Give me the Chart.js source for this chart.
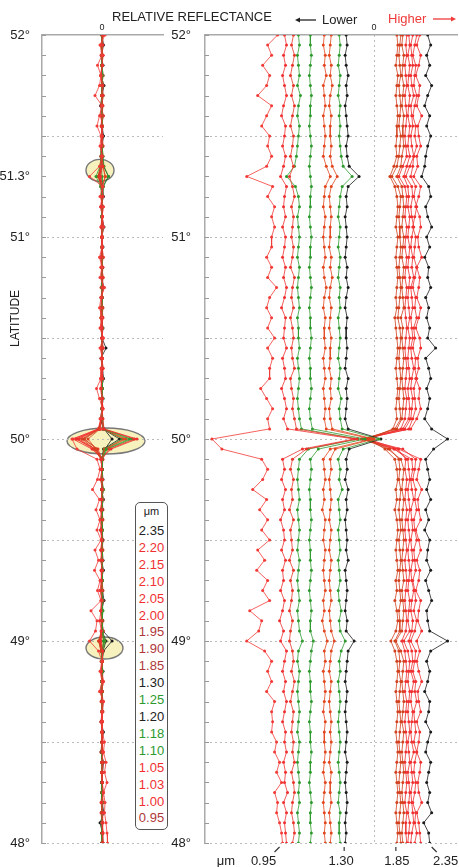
<!DOCTYPE html>
<html>
<head>
<meta charset="utf-8">
<script src="https://cdn.jsdelivr.net/npm/chart.js@4.4.1/dist/chart.umd.min.js"></script>
<style>
  body { margin: 0; background: #fff; width: 459px; height: 867px; overflow: hidden; position: relative;
         font-family: "Liberation Sans", Arial, sans-serif; color: #222; }
  canvas { position: absolute; top: 0; }
  .txt { position: absolute; white-space: nowrap; font-size: 13px; line-height: 16px; }
  #legend { position: absolute; left: 135px; top: 502px; width: 31px; border: 1.5px solid #555;
            border-radius: 5px; background: #fff; text-align: center; padding-bottom: 2px; }
  #legend div { font-size: 13px; line-height: 16.9px; }
  #legend .hd { font-size: 11px; line-height: 17px; margin-bottom: 3px; }
</style>
</head>
<body>
<canvas id="left" width="172" height="867" style="left:0"></canvas>
<canvas id="right" width="309" height="867" style="left:150px"></canvas>

<div class="txt" style="left:112px;top:9px">RELATIVE REFLECTANCE</div>
<div class="txt" style="left:322px;top:12px">Lower</div>
<div class="txt" style="left:388px;top:11px;color:#f03a3a">Higher</div>
<svg width="459" height="40" style="position:absolute;left:0;top:0">
  <line x1="297" y1="20" x2="316" y2="20" stroke="#222" stroke-width="1.3"/>
  <path d="M295 20 l5 -2.5 v5 z" fill="#222"/>
  <line x1="433" y1="19" x2="453" y2="19" stroke="#f03a3a" stroke-width="1.3"/>
  <path d="M456 19 l-5 -2.5 v5 z" fill="#f03a3a"/>
</svg>
<div class="txt" style="left:-12px;top:312px;font-size:12px;transform:rotate(-90deg);transform-origin:27px 8px">LATITUDE</div>
<div id="legend"></div>

<script>
// --- DATOS ---
const LAT = [52, 51.95, 51.9, 51.85, 51.8, 51.75, 51.7, 51.65, 51.6, 51.55,
    51.5, 51.45, 51.4, 51.35, 51.3, 51.25, 51.2, 51.15, 51.1, 51.05,
    51, 50.95, 50.9, 50.85, 50.8, 50.75, 50.7, 50.65, 50.6, 50.55,
    50.5, 50.45, 50.4, 50.35, 50.3, 50.25, 50.2, 50.15, 50.1, 50.05,
    50, 49.95, 49.9, 49.85, 49.8, 49.75, 49.7, 49.65, 49.6, 49.55,
    49.5, 49.45, 49.4, 49.35, 49.3, 49.25, 49.2, 49.15, 49.1, 49.05,
    49, 48.95, 48.9, 48.85, 48.8, 48.75, 48.7, 48.65, 48.6, 48.55,
    48.5, 48.45, 48.4, 48.35, 48.3, 48.25, 48.2, 48.15, 48.1, 48.05, 48];

// series in plot order (left to right in the offset panel)
const UM = ['0.95', '1.00', '1.03', '1.10', '1.18', '1.05', '1.20', '1.25', '1.30',
    '1.85', '1.90', '1.95', '2.00', '2.05', '2.10', '2.15', '2.20', '2.35'];
const COLORS = ['#f23a36', '#f03030', '#e8362a', '#2e9a2e', '#2e9a2e', '#e2461e', '#e2461e', '#2e9a2e', '#1a1a1a',
    '#d2401e', '#d2401e', '#d2401e', '#f03030', '#f03030', '#f03030', '#f03030', '#f03030', '#1a1a1a'];

// offset of each profile in the right panel
const BASE = [-103, -90, -82, -76, -64, -50, -44, -35, -28, 23, 26, 29, 32, 35, 38, 41, 45, 54];

// relative reflectance (deviation) per profile, one value per LAT
const DEV = [
  [6,-4,0,-9,-2,-5,-14,0,-5,-10, -2,-4,0,-5,-25,1,-4,3,0,3, 0,0,-5,0,-4,5,-2,-5,0,-4,
   3,-4,1,-2,-2,-11,-5,1,-4,-2, -60,-50,-10,-4,-9,-19,-5,-12,-4,-10, -2,-14,-7,-15,-4,-9,-2,-22,-10,-13,
   -25,-7,0,-4,0,-5,3,0,1,0, 5,3,8,5,10,3,6,5,8,10,11],
  [0,2,-1,1,-2,0,2,-1,-3,1, 0,-2,1,-1,-4,2,0,-1,1,-2, 1,0,-2,1,-1,2,0,-3,1,0,
   -1,2,-2,0,1,-3,0,2,-1,3, 70,18,-2,0,-3,1,-2,0,-4,-1, 0,-3,1,-2,-1,-4,0,-2,-5,-1,
   -4,2,0,-2,1,-1,2,0,-2,1, 0,2,-1,1,0,3,-1,2,0,1,2],
  [1,-1,2,0,-2,1,-1,2,0,-2, 1,0,-2,1,-3,0,2,-1,1,0, -1,1,0,-2,2,0,-1,1,-2,0,
   1,-1,0,2,-2,-1,1,0,2,4, 65,14,0,-2,1,-1,0,-3,1,-2, -1,0,-3,1,-2,0,-1,-3,0,-2,
   -3,0,1,-1,2,0,-2,1,0,-1, 1,0,2,-1,1,2,0,-1,1,2,0],
  [0,1,-1,0,1,-1,2,0,-1,1, 0,-1,-2,-4,-12,-3,0,1,-1,0, 1,0,-1,1,0,-1,0,1,-1,0,
   0,1,-1,0,1,0,-1,0,1,3, 60,10,1,0,-1,0,1,-1,0,1, 0,-1,1,0,-1,0,1,-1,0,1,
   4,0,-1,1,0,-1,0,1,0,-1, 1,0,-1,0,1,0,1,-1,0,1,0],
  [0,0,1,0,-1,0,1,0,0,-1, 0,1,0,-1,0,1,0,0,-1,0, 1,0,0,-1,0,1,0,-1,0,0,
   1,0,-1,0,0,1,0,-1,0,2, 55,8,0,1,0,-1,0,0,1,0, -1,0,0,1,0,-1,0,1,0,0,
   3,1,0,-1,0,0,1,0,-1,0, 0,1,0,0,-1,0,1,0,0,1,0],
  [0,-1,1,0,2,-1,0,1,-1,0, 1,0,-1,2,6,1,0,-1,1,0, -1,0,1,-1,0,2,0,-1,1,0,
   0,1,-1,0,1,-1,0,1,0,2, 48,6,-1,0,1,-1,0,-2,1,0, -1,1,0,-1,0,1,-1,0,-2,0,
   3,0,1,-1,0,1,0,-1,1,0, 0,1,0,-1,1,0,-1,0,1,0,1],
  [1,0,-1,1,0,2,0,-1,1,0, 0,1,0,2,7,1,-1,0,1,0, 0,-1,1,0,2,0,-1,1,0,-1,
   1,0,0,-1,1,0,1,-1,0,2, 44,5,0,1,-1,0,1,0,-1,1, 0,-1,1,0,-1,0,1,-1,0,1,
   4,1,0,-1,1,0,-1,0,1,0, 1,0,-1,1,0,0,1,-1,0,1,0],
  [0,1,0,-1,1,0,-1,1,0,1, 0,1,2,4,13,3,1,0,-1,1, 0,-1,1,0,-1,1,0,1,-1,0,
   1,0,-1,1,0,-1,2,0,1,3, 40,4,-1,1,0,3,-1,0,1,-1, 0,1,-1,0,1,-1,0,2,0,1,
   6,2,0,1,-1,0,1,0,-1,0, 1,0,-1,0,1,0,-1,1,0,0,1],
  [0,1,-1,0,2,0,1,-1,0,1, 2,0,1,3,13,2,0,1,-1,0, 1,0,-1,1,0,2,0,-1,1,0,
   0,1,0,-1,2,0,1,0,-1,2, 35,3,0,1,-1,2,0,1,-1,0, 1,0,2,-1,0,1,0,-1,1,0,
   8,2,1,0,-1,1,0,-1,0,1, 0,-1,1,0,-1,0,1,0,-1,0,-1],
  [0,1,0,-1,1,0,-1,0,1,0, 0,-1,0,-3,-7,-2,0,1,0,-1, 1,0,-1,0,1,0,-1,0,-2,-1,
   0,1,0,-1,0,1,0,-1,0,-4, -28,-12,-2,0,1,-1,0,-2,0,1, 0,-1,0,1,-1,0,-2,0,1,-1,
   -6,-2,0,1,0,-1,0,1,0,-1, 0,1,0,-1,0,1,0,-1,0,1,0],
  [1,0,-1,0,1,-1,0,1,0,-1, 1,0,-1,-3,-8,-2,1,0,-1,0, 0,1,0,-1,0,1,0,-1,-2,0,
   1,0,-1,0,1,0,-1,0,1,-5, -35,-10,-1,0,-1,1,0,-1,0,1, -1,0,1,0,-1,0,1,-1,0,0,
   -5,-1,0,-1,1,0,-1,0,1,0, -1,0,1,0,-1,0,1,0,-1,0,1],
  [0,-1,1,0,-1,1,0,-1,1,0, 0,1,-1,-2,-6,-1,0,1,0,-1, 1,0,-1,1,0,-1,0,1,-2,0,
   -1,0,1,0,-1,0,1,0,-1,-6, -40,-15,-2,1,0,-1,1,0,-1,0, 1,0,-1,0,1,-1,0,1,0,-1,
   -7,-2,1,0,-1,0,1,0,-1,1, 0,-1,0,1,0,-1,0,1,0,-1,0],
  [1,0,1,-1,0,1,-1,0,1,0, -1,0,1,-3,-7,-1,1,0,-1,1, 0,-1,1,0,-1,1,0,-1,0,1,
   0,-1,0,1,0,-1,1,0,-1,-5, -38,-8,0,-1,1,0,-1,1,0,-1, 0,1,-1,0,1,0,-1,0,1,0,
   -4,-1,0,1,0,-1,1,0,-1,0, 1,0,-1,0,1,0,-1,1,0,0,1],
  [0,1,-1,1,0,-1,1,0,-1,1, 0,-1,1,-2,-5,-1,0,-1,1,0, -1,1,0,-1,1,0,-1,0,1,-1,
   1,0,-1,0,1,-1,0,1,0,-6, -46,-14,-1,0,1,-1,0,1,-1,0, 1,-1,0,1,0,-1,1,0,-1,1,
   -5,-1,1,0,-1,1,0,-1,0,1, -1,0,1,-1,0,1,0,-1,1,0,-1],
  [1,-1,0,1,-1,0,2,-1,0,1, -1,0,2,-2,-6,0,1,-1,0,2, 0,-1,1,0,2,-1,0,1,-1,0,
   1,-1,0,2,0,-1,1,0,-1,-7, -50,-18,0,1,-1,0,2,-1,0,1, -1,0,1,-1,0,2,0,-1,1,0,
   -3,0,1,-1,2,0,-1,1,0,-1, 0,2,-1,0,1,-1,0,1,2,0,-1],
  [2,0,-2,1,0,-1,2,0,-2,1, 0,2,-1,-2,-4,1,-1,2,0,-2, 1,0,-1,2,0,-2,1,0,2,-1,
   0,-2,1,0,2,-1,0,1,-2,-6, -52,-12,1,0,-2,1,0,2,-1,0, 2,-1,0,1,-2,0,1,-1,2,0,
   -4,1,0,-2,1,0,2,-1,0,1, -1,2,0,-1,1,0,-2,1,0,2,0],
  [1,-2,2,0,-3,1,0,-2,3,-1, 0,2,-2,-1,-5,2,0,-3,1,2, -1,0,3,-2,1,0,-2,2,0,-3,
   1,2,-1,0,-3,1,0,2,-2,-8, -58,-20,2,0,-2,3,-1,0,2,-3, 0,2,-2,1,0,-3,2,0,-1,3,
   -2,1,-2,0,3,-1,0,2,-2,1, 0,-2,2,1,-1,0,3,-2,0,1,2],
  [0,3,-1,2,-2,4,0,-3,2,-1, 3,0,-2,-3,-6,1,3,-2,0,4, -1,2,-3,1,0,3,-2,1,-1,2,
   0,8,-2,1,3,-1,2,0,-3,4, 20,6,-2,0,2,-1,3,-2,1,-3, 2,0,-1,3,-2,1,4,-1,0,2,
   20,3,-1,2,0,-3,2,1,-2,3, 0,-2,3,1,-1,2,0,4,-4,1,2]
];

// tick labels / legend
const LEFT_LAT_LABELS = [52, 51.3, 51, 50, 49, 48];
const RIGHT_LAT_LABELS = [52, 51, 50, 49, 48];
const GRID_LATS = [51.5, 51, 50.5, 50, 49.5, 49, 48.5, 48];
const LEGEND_UM = ['2.35', '2.20', '2.15', '2.10', '2.05', '2.00', '1.95', '1.90', '1.85',
    '1.30', '1.25', '1.20', '1.18', '1.10', '1.05', '1.03', '1.00', '0.95'];
const LEGEND_COLORS = ['#222', '#f03030', '#f03030', '#f03030', '#f03030', '#f03030', '#b0383a', '#b0383a', '#b0383a',
    '#222', '#2e9a2e', '#222', '#2e9a2e', '#2e9a2e', '#f03030', '#f03030', '#f03030', '#b0383a'];
const BOTTOM_SERIES = [0, 8, 9, 17];

// --- LEYENDA ---
const legend = document.getElementById('legend');
legend.innerHTML = '<div class="hd">μm</div>' +
    LEGEND_UM.map((u, i) => `<div style="color:${LEGEND_COLORS[i]}">${u}</div>`).join('');

Chart.defaults.font.family = '"Liberation Sans", Arial, sans-serif';
Chart.defaults.color = '#222';

// decoraciones: rejilla punteada, marcas menores, elipses, rotulos
const decor = {
    id: 'decor',
    beforeDatasetsDraw(chart, args, opts) {
        const { ctx, chartArea: a, scales: { x, y } } = chart;
        ctx.save();
        (opts.ellipses || []).forEach(e => {
            ctx.beginPath();
            ctx.ellipse(x.getPixelForValue(0) + e.dx, y.getPixelForValue(e.lat), e.rx, e.ry, 0, 0, Math.PI * 2);
            ctx.fillStyle = '#f6f1bd';
            ctx.fill();
            ctx.lineWidth = 1.4;
            ctx.strokeStyle = '#777';
            ctx.stroke();
        });
        ctx.strokeStyle = '#bbb';
        ctx.lineWidth = 1;
        ctx.setLineDash([2, 3]);
        GRID_LATS.forEach(l => {
            const py = Math.round(y.getPixelForValue(l)) + 0.5;
            ctx.beginPath(); ctx.moveTo(a.left, py); ctx.lineTo(a.right, py); ctx.stroke();
        });
        if (opts.zeroLine) {
            const px = Math.round(x.getPixelForValue(0)) + 0.5;
            ctx.beginPath(); ctx.moveTo(px, a.top); ctx.lineTo(px, a.bottom); ctx.stroke();
        }
        ctx.setLineDash([]);
        ctx.strokeStyle = '#999';
        for (let t = 0; t <= 40; t++) {
            const py = Math.round(y.getPixelForValue(48 + t / 10)) + 0.5;
            ctx.beginPath(); ctx.moveTo(a.left, py); ctx.lineTo(a.left + 4, py); ctx.stroke();
        }
        // "0" sobre el eje superior
        ctx.font = '9px "Liberation Sans", Arial, sans-serif';
        ctx.fillStyle = '#222';
        ctx.textAlign = 'center';
        ctx.textBaseline = 'middle';
        ctx.fillText('0', x.getPixelForValue(0), 28);
        ctx.restore();
    },
    afterDraw(chart, args, opts) {
        if (!opts.bottom) return;
        const { ctx, scales: { x } } = chart;
        const offs = [-19, -4, 0, 16];
        ctx.save();
        ctx.font = '13px "Liberation Sans", Arial, sans-serif';
        ctx.fillStyle = '#222';
        ctx.textAlign = 'center';
        ctx.textBaseline = 'middle';
        ctx.fillText('μm', 76, 861);
        ctx.strokeStyle = '#333';
        ctx.lineWidth = 1.2;
        BOTTOM_SERIES.forEach((k, j) => {
            const last = DEV[k][DEV[k].length - 1];
            const px = x.getPixelForValue(BASE[k] + last);
            ctx.fillText(UM[k], px + offs[j], 861);
            ctx.beginPath();
            if (j === 0) { ctx.moveTo(px - 3, 847); ctx.lineTo(px - 8, 852); }
            else if (j === 3) { ctx.moveTo(px + 2, 847); ctx.lineTo(px + 7, 852); }
            else { ctx.moveTo(px - 1, 847); ctx.lineTo(px - 1, 851); }
            ctx.stroke();
        });
        ctx.restore();
    }
};

const makeSets = (withBase) => DEV.map((d, k) => ({
    label: UM[k] + ' μm',
    data: d.map((v, i) => ({ x: withBase ? BASE[k] + v : v, y: LAT[i] })),
    showLine: true,
    borderColor: COLORS[k],
    backgroundColor: COLORS[k],
    borderWidth: 0.8,
    pointRadius: 1.5,
    pointBorderWidth: 0,
    pointHoverRadius: 0
}));

const makeChart = (id, sets, xmin, xmax, latLabels, yWidth, tickPad, padRight, decorOpts) =>
    new Chart(document.getElementById(id), {
        type: 'scatter',
        data: { datasets: sets },
        plugins: [decor],
        options: {
            responsive: false,
            animation: false,
            events: [],
            layout: { padding: { top: 0, right: padRight, bottom: 24, left: 0 } },
            plugins: { legend: { display: false }, tooltip: { enabled: false }, decor: decorOpts },
            scales: {
                x: {
                    type: 'linear', position: 'top', min: xmin, max: xmax,
                    afterFit: s => { s.height = 35; },
                    ticks: { display: false },
                    grid: { display: false },
                    border: { display: true, color: '#aaa', width: 1.5 }
                },
                y: {
                    type: 'linear', min: 48, max: 52,
                    afterBuildTicks: s => { s.ticks = latLabels.map(v => ({ value: v })); },
                    afterFit: s => { s.width = yWidth; },
                    ticks: { autoSkip: false, font: { size: 13 }, padding: tickPad, callback: v => v + '°' },
                    grid: { display: false },
                    border: { display: true, color: '#aaa', width: 1.5 }
                }
            }
        }
    });

makeChart('left', makeSets(false), -120, 122, LEFT_LAT_LABELS, 42, 4, 9, {
    ellipses: [
        { lat: 51.33, dx: -2, rx: 14, ry: 11 },
        { lat: 49.99, dx: 4, rx: 39, ry: 13 },
        { lat: 48.965, dx: 2.5, rx: 18.5, ry: 11 }
    ]
});
makeChart('right', makeSets(true), -170, 84, RIGHT_LAT_LABELS, 55, 6, 0, { zeroLine: true, bottom: true });
</script>
</body>
</html>
